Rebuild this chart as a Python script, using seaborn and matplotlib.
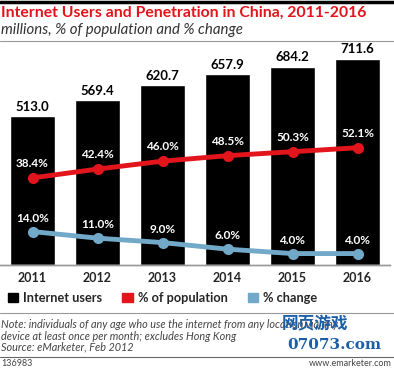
import pandas as pd
import seaborn as sns
import matplotlib.pyplot as plt
from matplotlib.lines import Line2D
from matplotlib.patches import Patch

# Daten
years = ['2011', '2012', '2013', '2014', '2015', '2016']
users = [513.0, 569.4, 620.7, 657.9, 684.2, 711.6]
pct_population = [38.4, 42.4, 46.0, 48.5, 50.3, 52.1]
pct_change = [14.0, 11.0, 9.0, 6.0, 4.0, 4.0]

RED = '#e2141c'
BLUE = '#72a9c9'
W, H = 394, 370

sns.set_style('white')
plt.rcParams['font.family'] = ['Lato', 'DejaVu Sans']

df = pd.DataFrame({'year': years, 'users': users,
                   'pop': pct_population, 'chg': pct_change})

fig = plt.figure(figsize=(W / 100, H / 100), dpi=100)


def fx(px):
    return px / W


def fy(py):
    return 1 - py / H


ax = fig.add_axes([fx(0), fy(265), fx(390), (265 - 50) / H])
sns.barplot(data=df, x='year', y='users', color='black', width=0.68,
            saturation=1, ax=ax)
ax.set_ylim(0, 215 / 0.29)
ax.set_xlim(-0.5, 5.5)
for i, v in enumerate(users):
    ax.text(i, v + 11, f'{v:.1f}', ha='center', va='bottom',
            fontsize=9.5, fontweight='bold', color='black')

ax2 = ax.twinx()
ax2.set_ylim(-1.2, 215 / 2.2 - 1.2)
sns.lineplot(x=range(len(years)), y=pct_population, color=RED, lw=3.5,
             marker='o', markersize=8, markeredgewidth=0, ax=ax2)
sns.lineplot(x=range(len(years)), y=pct_change, color=BLUE, lw=3.5,
             marker='o', markersize=8, markeredgewidth=0, ax=ax2)
for i in range(len(years)):
    ax2.text(i, pct_population[i] + 4, f'{pct_population[i]:.1f}%',
             ha='center', va='bottom', fontsize=8.5, fontweight='bold',
             color='white')
    ax2.text(i, pct_change[i] + 3.6, f'{pct_change[i]:.1f}%',
             ha='center', va='bottom', fontsize=8.5, fontweight='bold',
             color='white')

for a in (ax, ax2):
    a.set_yticks([])
    a.set_ylabel('')
    a.set_xlabel('')
    for s in ('top', 'left', 'right'):
        a.spines[s].set_visible(False)
    a.spines['bottom'].set_color('#999999')
    a.spines['bottom'].set_linewidth(1)
ax.tick_params(axis='x', length=0, pad=5, labelsize=9)
for t in ax.get_xticklabels():
    t.set_fontweight('bold')

# Kopfzeile
fig.add_artist(Line2D([0, 1], [fy(2), fy(2)], color='black', lw=2.5))
fig.text(fx(1), fy(13), 'Internet Users and Penetration in China, 2011-2016',
         color=RED, fontsize=11.3, fontweight='bold', va='center')
fig.text(fx(1), fy(30), 'millions, % of population and % change',
         color='#333333', fontsize=10.8, style='italic', va='center')
fig.add_artist(Line2D([0, 1], [fy(41), fy(41)], color='#999999', lw=0.8))

# Legende
handles = [Patch(color='black'), Patch(color=RED), Patch(color=BLUE)]
labels = ['Internet users', '% of population', '% change']
fig.legend(handles, labels, loc='center left', bbox_to_anchor=(fx(-4), fy(298)),
           ncol=3, frameon=False, handlelength=0.8, handleheight=0.8,
           handletextpad=0.4, columnspacing=1.6,
           prop={'weight': 'bold', 'size': 9.2})

# Fußzeile
fig.add_artist(Line2D([0, 1], [fy(313), fy(313)], color='#999999', lw=0.8))
note = ('Note: individuals of any age who use the internet from any location via any\n'
        'device at least once per month; excludes Hong Kong\n'
        'Source: eMarketer, Feb 2012')
fig.text(fx(1), fy(336), note, color='#444444', fontsize=7.8, style='italic',
         va='center', linespacing=1.0)
fig.add_artist(Line2D([0, 1], [fy(357), fy(357)], color='#666666', lw=0.8))
fig.text(fx(1), fy(364), '136983', color='#444444', fontsize=6.5, va='center')
fig.text(fx(392), fy(364), 'www.emarketer.com', color='#444444', fontsize=6.5,
         va='center', ha='right')

# Wasserzeichen
fig.text(fx(282), fy(323), '网页游戏', color='#1d5fa6', fontsize=12,
         fontweight='bold', va='center', family=['Noto Sans CJK SC', 'DejaVu Sans'])
fig.text(fx(287), fy(345), '07073.com', color='#1d5fa6', fontsize=11,
         fontweight='bold', va='center', family=['DejaVu Serif'])

fig.savefig('out.png', dpi=100)
